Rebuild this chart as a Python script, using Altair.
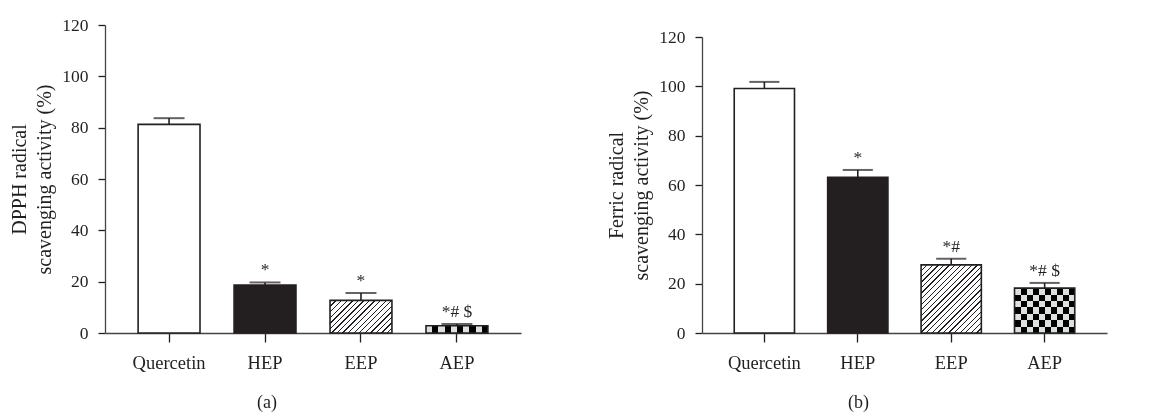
import altair as alt
import pandas as pd

groups = ["Quercetin", "HEP", "EEP", "AEP"]
dpph_mean = [81.3, 18.7, 12.7, 2.8]
dpph_err = [2.4, 1.0, 2.9, 0.7]
dpph_sig = ["", "*", "*", "*# $"]
ferric_mean = [99.1, 63.1, 27.6, 18.2]
ferric_err = [2.7, 3.0, 2.5, 2.1]
ferric_sig = ["", "*", "*#", "*# $"]

FONT = "Liberation Serif"
INK = "#231f20"
PI, PO = 0.355, 0.345
H = 308


def hatch(w, h, period=5.5, frac=0.24):
    n = max(1, int(round((w + h) / period)))
    k = (w + h) / (w * w + h * h)
    stops = []
    for i in range(n):
        a = i / n
        b = (i + frac) / n
        stops += [alt.GradientStop(offset=a, color=INK), alt.GradientStop(offset=b, color=INK),
                  alt.GradientStop(offset=b, color="white"), alt.GradientStop(offset=(i + 1) / n, color="white")]
    return alt.Gradient(gradient="linear", x1=0, y1=0, x2=k * w, y2=k * h, stops=stops)


def stripes(length, cell, vertical, first):
    n = max(1, int(round(length / cell)))
    cols = [first, "white" if first == INK else INK]
    stops = []
    for i in range(n):
        c = cols[i % 2]
        stops += [alt.GradientStop(offset=i / n, color=c), alt.GradientStop(offset=(i + 1) / n, color=c)]
    if vertical:
        return alt.Gradient(gradient="linear", x1=0, y1=0, x2=1, y2=0, stops=stops)
    return alt.Gradient(gradient="linear", x1=0, y1=0, x2=0, y2=1, stops=stops)


def panel(means, errs, sigs, ytitle, caption, W, top):
    df = pd.DataFrame({"g": groups, "m": means, "e": errs, "s": sigs})
    df["top"] = df["m"] + df["e"]
    bw = W / (4 - PI + 2 * PO) * (1 - PI)
    ppu = (H - top) / 120.0
    x = alt.X("g:N", sort=groups, title=None,
              scale=alt.Scale(paddingInner=PI, paddingOuter=PO),
              axis=alt.Axis(labelAngle=0, labelFont=FONT, labelFontSize=18.5, labelColor=INK,
                            tickSize=9, tickColor=INK, domainColor="#444", domainWidth=1.3,
                            tickWidth=1.3, labelPadding=11))
    y = alt.Y("m:Q", title=ytitle,
              scale=alt.Scale(domain=[0, 120], nice=False, range=[H, top]),
              axis=alt.Axis(values=[0, 20, 40, 60, 80, 100, 120], grid=False, labelFont=FONT,
                            labelFontSize=17.5, labelColor=INK, tickSize=7, tickColor=INK,
                            domainColor="#444", domainWidth=1.3, tickWidth=1.3, labelPadding=10,
                            titleFont=FONT, titleFontSize=20, titleFontWeight="normal",
                            titleColor=INK, titleLineHeight=25, titlePadding=7))
    base = alt.Chart(df).encode(x=x)
    eep_h = means[2] * ppu
    aep_h = means[3] * ppu
    layers = [
        base.mark_bar(color="white").transform_filter(alt.datum.g == "Quercetin").encode(y=y),
        base.mark_bar(color=INK).transform_filter(alt.datum.g == "HEP").encode(y=y),
        base.mark_bar(fill=hatch(bw, eep_h)).transform_filter(alt.datum.g == "EEP").encode(y=y),
        base.mark_bar(fill=stripes(bw, 6, True, INK)).transform_filter(alt.datum.g == "AEP").encode(y=y),
        base.mark_bar(fill=stripes(aep_h, 6, False, "white"), blend="difference").transform_filter(alt.datum.g == "AEP").encode(y=y),
        base.mark_bar(fillOpacity=0, stroke=INK, strokeWidth=1.6).encode(y=y),
        base.mark_rule(color=INK, strokeWidth=1.6).encode(y="m:Q", y2="top:Q"),
        base.mark_tick(color=INK, thickness=2, size=bw / 2).encode(y="top:Q"),
        base.mark_text(font=FONT, fontSize=17.5, color=INK, baseline="alphabetic", dy=-7).encode(y="top:Q", text="s:N"),
    ]
    return alt.layer(*layers).properties(
        width=W, height=H,
        title=alt.TitleParams(caption, orient="bottom", anchor="middle", dx=-46, font=FONT,
                              fontSize=18, fontWeight="normal", color=INK, offset=22),
    )


left = panel(dpph_mean, dpph_err, dpph_sig, ["DPPH radical", "scavenging activity (%)"], "(a)", 416, 0)
right = panel(ferric_mean, ferric_err, ferric_sig, ["Ferric radical", "scavenging activity (%)"], "(b)", 405, 12)

chart = alt.hconcat(left, right, spacing=85).configure(
    padding={"left": 1, "top": 8, "right": 5, "bottom": 0},
    view=alt.ViewConfig(stroke="transparent", strokeWidth=0),
)
chart.save("out.html", embed_options={"renderer": "svg", "actions": False})
